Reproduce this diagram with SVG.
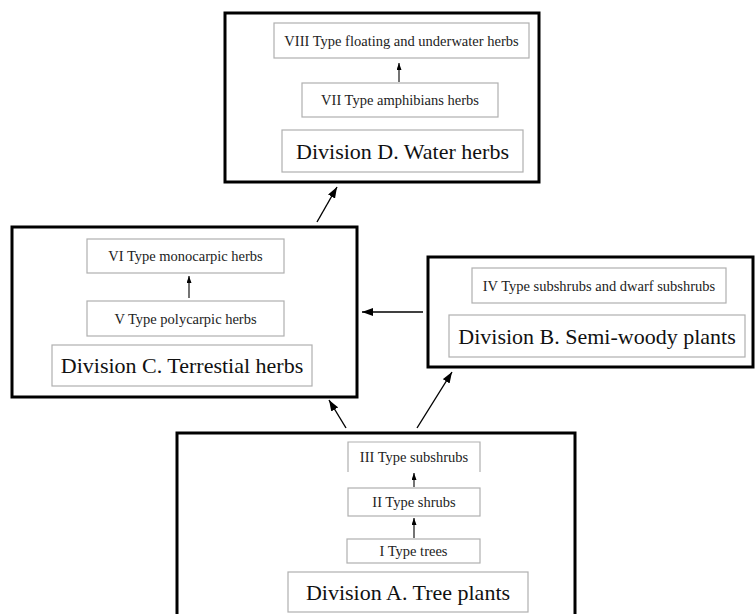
<svg xmlns="http://www.w3.org/2000/svg" width="755" height="614" viewBox="0 0 755 614">
  <style>
    .outer { fill: none; stroke: #000; stroke-width: 3; }
    .inner { fill: #fff; stroke: #b0b0b0; stroke-width: 1.2; }
    .open { fill: none; stroke: #b0b0b0; stroke-width: 1.2; }
    .lbl { font-family: "Liberation Serif", "Times New Roman", serif; font-size: 14.5px; fill: #222; text-anchor: middle; }
    .div { font-family: "Liberation Serif", "Times New Roman", serif; font-size: 22px; fill: #111; text-anchor: middle; }
    .link { stroke: #000; stroke-width: 1.4; fill: none; }
    .step { stroke: #000; stroke-width: 1.1; fill: none; }
  </style>
  <defs>
    <marker id="head" markerUnits="userSpaceOnUse" markerWidth="11" markerHeight="8" refX="11" refY="4" orient="auto">
      <path d="M0,0 L11,4 L0,8 z" fill="#000"/>
    </marker>
    <marker id="headSmall" markerUnits="userSpaceOnUse" markerWidth="7" markerHeight="5" refX="7" refY="2.5" orient="auto">
      <path d="M0,0 L7,2.5 L0,5 z" fill="#000"/>
    </marker>
  </defs>
  <rect width="755" height="614" fill="#fff"/>

  <!-- Division D -->
  <g id="division-d">
    <rect class="outer" x="225" y="13" width="314" height="169"/>
    <rect class="inner" x="274" y="23" width="255" height="35"/>
    <text class="lbl" x="401.5" y="45.5">VIII Type floating and underwater herbs</text>
    <rect class="inner" x="302" y="83" width="196" height="34"/>
    <text class="lbl" x="400" y="105">VII Type amphibians herbs</text>
    <rect class="inner" x="282" y="130" width="241" height="42"/>
    <text class="div" x="402.5" y="158.5">Division D. Water herbs</text>
  </g>

  <!-- Division C -->
  <g id="division-c">
    <rect class="outer" x="12" y="227" width="345" height="170"/>
    <rect class="inner" x="87" y="239" width="197" height="34"/>
    <text class="lbl" x="185.5" y="261">VI Type monocarpic herbs</text>
    <rect class="inner" x="87" y="301" width="197" height="35"/>
    <text class="lbl" x="185.5" y="323.5">V Type polycarpic herbs</text>
    <rect class="inner" x="52" y="345" width="260" height="41"/>
    <text class="div" x="182" y="373">Division C. Terrestial herbs</text>
  </g>

  <!-- Division B -->
  <g id="division-b">
    <rect class="outer" x="428" y="257" width="325" height="110"/>
    <rect class="inner" x="472" y="268" width="254" height="35"/>
    <text class="lbl" x="599" y="290.5">IV Type subshrubs and dwarf subshrubs</text>
    <rect class="inner" x="449" y="315" width="296" height="42"/>
    <text class="div" x="597" y="343.5">Division B. Semi-woody plants</text>
  </g>

  <!-- Division A -->
  <g id="division-a">
    <rect class="outer" x="177" y="433" width="398" height="200"/>
    <!-- type III frame is open at the bottom -->
    <path class="open" d="M348,472 V442 H480 V472"/>
    <text class="lbl" x="414" y="462">III Type subshrubs</text>
    <rect class="inner" x="348" y="488" width="132" height="28"/>
    <text class="lbl" x="414" y="507">II Type shrubs</text>
    <rect class="inner" x="347" y="539" width="133" height="24"/>
    <text class="lbl" x="413.5" y="556">I Type trees</text>
    <rect class="inner" x="288" y="572" width="240" height="40"/>
    <text class="div" x="408" y="599.5">Division A. Tree plants</text>
  </g>

  <!-- connectors -->
  <g id="connectors">
    <line class="step" x1="399" y1="82" x2="399" y2="63" marker-end="url(#headSmall)"/>
    <line class="step" x1="189" y1="298" x2="189" y2="276" marker-end="url(#headSmall)"/>
    <line class="step" x1="414" y1="487" x2="414" y2="473" marker-end="url(#headSmall)"/>
    <line class="step" x1="414" y1="538" x2="414" y2="518" marker-end="url(#headSmall)"/>
    <line class="link" x1="423" y1="312" x2="362" y2="312" marker-end="url(#head)"/>
    <line class="link" x1="317" y1="222" x2="337" y2="187" marker-end="url(#head)"/>
    <line class="link" x1="346" y1="428" x2="329" y2="400" marker-end="url(#head)"/>
    <line class="link" x1="417" y1="428" x2="452" y2="372" marker-end="url(#head)"/>
  </g>
</svg>
